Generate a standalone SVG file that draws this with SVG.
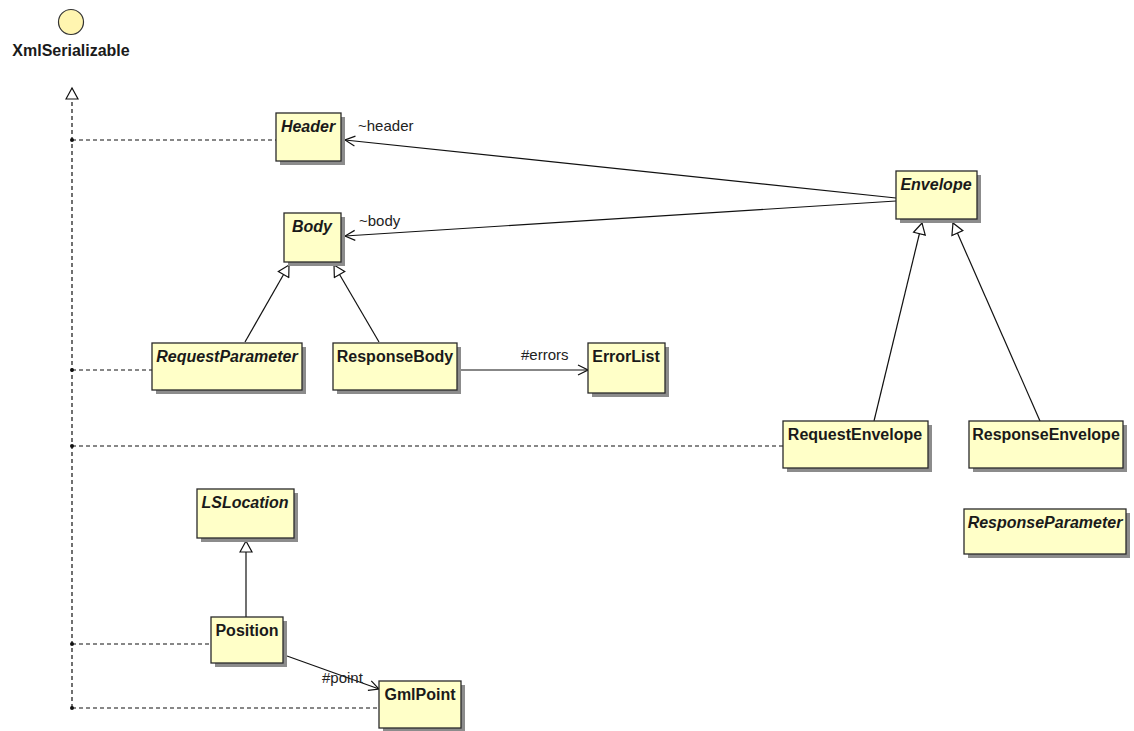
<svg xmlns="http://www.w3.org/2000/svg" width="1134" height="731" viewBox="0 0 1134 731">
<style>
.box{fill:#ffffc8;stroke:#2a2a2a;stroke-width:1.3}
.sh{fill:#8c8c8c}
.t{font-family:"Liberation Sans",Arial,sans-serif;font-size:16px;font-weight:bold;fill:#1a1a1a}
.i{font-style:italic}
.lbl{font-family:"Liberation Sans",Arial,sans-serif;font-size:15px;fill:#222}
.dash{fill:none;stroke:#111;stroke-width:1.2;stroke-dasharray:4,3}
.ln{fill:none;stroke:#111;stroke-width:1.2}
</style>
<defs>
<marker id="open" markerWidth="12" markerHeight="12" refX="11" refY="6" orient="auto" markerUnits="userSpaceOnUse">
<path d="M1,1 L11,6 L1,11" fill="none" stroke="#111" stroke-width="1.2"/>
</marker>
<marker id="gen" markerWidth="14" markerHeight="14" refX="12" refY="7" orient="auto" markerUnits="userSpaceOnUse">
<path d="M1,1 L12,7 L1,13 Z" fill="#fff" stroke="#111" stroke-width="1.2"/>
</marker>
</defs>
<rect width="1134" height="731" fill="#fff"/>

<g id="connectors">
<line class="dash" x1="72" y1="708" x2="72" y2="88" marker-end="url(#gen)"/>
<line class="dash" x1="72" y1="140" x2="276" y2="140"/>
<line class="dash" x1="72" y1="370" x2="152" y2="370"/>
<line class="dash" x1="72" y1="446" x2="783" y2="446"/>
<line class="dash" x1="72" y1="644" x2="211" y2="644"/>
<line class="dash" x1="72" y1="708" x2="379" y2="708"/>
<circle cx="72" cy="140" r="2" fill="#111"/>
<circle cx="72" cy="370" r="2" fill="#111"/>
<circle cx="72" cy="446" r="2" fill="#111"/>
<circle cx="72" cy="644" r="2" fill="#111"/>
<circle cx="72" cy="708" r="2" fill="#111"/>
<line class="ln" x1="896" y1="198" x2="345" y2="140" marker-end="url(#open)"/>
<text class="lbl" x="358" y="131">~header</text>
<line class="ln" x1="896" y1="201" x2="345" y2="236" marker-end="url(#open)"/>
<text class="lbl" x="359" y="226">~body</text>
<line class="ln" x1="245" y1="342" x2="289" y2="265" marker-end="url(#gen)"/>
<line class="ln" x1="379" y1="342" x2="334" y2="265" marker-end="url(#gen)"/>
<line class="ln" x1="457" y1="370" x2="588" y2="370" marker-end="url(#open)"/>
<text class="lbl" x="521" y="360">#errors</text>
<line class="ln" x1="874" y1="421" x2="922" y2="223" marker-end="url(#gen)"/>
<line class="ln" x1="1040" y1="421" x2="953" y2="223" marker-end="url(#gen)"/>
<line class="ln" x1="246" y1="617" x2="246" y2="541" marker-end="url(#gen)"/>
<line class="ln" x1="287" y1="656" x2="379" y2="689" marker-end="url(#open)"/>
<text class="lbl" x="322" y="683">#point</text>
</g>

<g id="XmlSerializable">
<circle cx="71" cy="22" r="12.5" fill="#fff5b0" stroke="#333" stroke-width="1.2"/>
<text class="t" x="71" y="56" text-anchor="middle">XmlSerializable</text>
</g>

<g id="Header">
<rect class="sh" x="280" y="117" width="65" height="48"/>
<rect class="box" x="276" y="113" width="65" height="48"/>
<text class="t i" x="308" y="132" text-anchor="middle">Header</text>
</g>

<g id="Body">
<rect class="sh" x="288" y="217" width="57" height="49"/>
<rect class="box" x="284" y="213" width="57" height="49"/>
<text class="t i" x="312" y="232" text-anchor="middle">Body</text>
</g>

<g id="Envelope">
<rect class="sh" x="900" y="175" width="81" height="48"/>
<rect class="box" x="896" y="171" width="81" height="48"/>
<text class="t i" x="936" y="190" text-anchor="middle">Envelope</text>
</g>

<g id="RequestParameter">
<rect class="sh" x="156" y="347" width="150" height="47"/>
<rect class="box" x="152" y="343" width="150" height="47"/>
<text class="t i" x="227" y="362" text-anchor="middle">RequestParameter</text>
</g>

<g id="ResponseBody">
<rect class="sh" x="337" y="347" width="124" height="47"/>
<rect class="box" x="333" y="343" width="124" height="47"/>
<text class="t" x="395" y="362" text-anchor="middle">ResponseBody</text>
</g>

<g id="ErrorList">
<rect class="sh" x="592" y="347" width="77" height="50"/>
<rect class="box" x="588" y="343" width="77" height="50"/>
<text class="t" x="626" y="362" text-anchor="middle">ErrorList</text>
</g>

<g id="RequestEnvelope">
<rect class="sh" x="787" y="425" width="145" height="47"/>
<rect class="box" x="783" y="421" width="145" height="47"/>
<text class="t" x="855" y="440" text-anchor="middle">RequestEnvelope</text>
</g>

<g id="ResponseEnvelope">
<rect class="sh" x="973" y="425" width="154" height="47"/>
<rect class="box" x="969" y="421" width="154" height="47"/>
<text class="t" x="1046" y="440" text-anchor="middle">ResponseEnvelope</text>
</g>

<g id="ResponseParameter">
<rect class="sh" x="968" y="513" width="162" height="45"/>
<rect class="box" x="964" y="509" width="162" height="45"/>
<text class="t i" x="1045" y="528" text-anchor="middle">ResponseParameter</text>
</g>

<g id="LSLocation">
<rect class="sh" x="201" y="493" width="97" height="49"/>
<rect class="box" x="197" y="489" width="97" height="49"/>
<text class="t i" x="245" y="508" text-anchor="middle">LSLocation</text>
</g>

<g id="Position">
<rect class="sh" x="215" y="621" width="72" height="46"/>
<rect class="box" x="211" y="617" width="72" height="46"/>
<text class="t" x="247" y="636" text-anchor="middle">Position</text>
</g>

<g id="GmlPoint">
<rect class="sh" x="383" y="685" width="82" height="47"/>
<rect class="box" x="379" y="681" width="82" height="47"/>
<text class="t" x="420" y="700" text-anchor="middle">GmlPoint</text>
</g>
</svg>
